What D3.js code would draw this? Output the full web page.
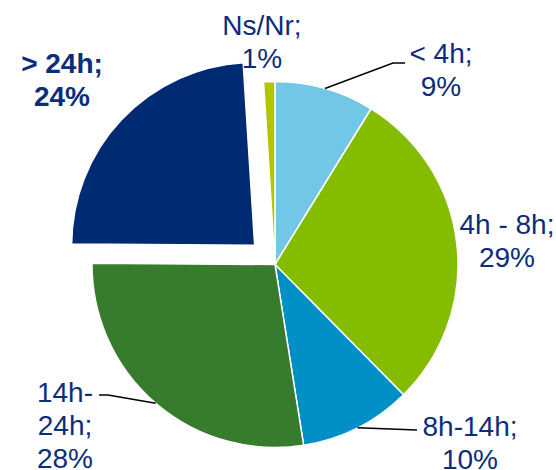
<!DOCTYPE html>
<html>
<head>
<meta charset="utf-8">
<script src="https://cdn.jsdelivr.net/npm/d3@7/dist/d3.min.js"></script>
<style>
  html, body { margin: 0; padding: 0; background: #ffffff; }
  svg { display: block; }
  text { font-family: "Liberation Sans", Arial, Helvetica, sans-serif; }
</style>
</head>
<body>
<svg id="chart" width="556" height="470"></svg>
<script>
// Share of cases by duration (percent)
const categories = ["< 4h", "4h - 8h", "8h-14h", "14h-24h", "> 24h", "Ns/Nr"];
const values     = [8.8, 28.8, 9.9, 27.6, 23.9, 1.0];
const colors     = ["#72c6e6", "#84bc00", "#0090c6", "#377b2c", "#002a72", "#b5c400"];

// Label layout: text lines, anchor position, weight, optional leader elbow/end
const labelLayout = [
  { lines: ["< 4h;", "{v}"],        x: 441, y: 63,  bold: false, leader: [[393, 63], [405, 63]] },
  { lines: ["4h - 8h;", "{v}"],     x: 507, y: 234, bold: false, leader: null },
  { lines: ["8h-14h;", "{v}"],      x: 470, y: 436, bold: false, leader: [[417, 430]] },
  { lines: ["14h-", "24h;", "{v}"], x: 65,  y: 402, bold: false, leader: [[108, 395], [99, 395]] },
  { lines: ["> 24h;", "{v}"],       x: 62,  y: 73,  bold: true,  leader: null },
  { lines: ["Ns/Nr;", "{v}"],       x: 262, y: 35,  bold: false, leader: null }
];
const exploded = { "> 24h": 28 };

const cx = 275, cy = 264.5, radius = 183;
const lineHeight = 33;
const textColor = "#0b2d7a";

const svg = d3.select("#chart");
const g = svg.append("g").attr("transform", `translate(${cx},${cy})`);

const pie = d3.pie().sort(null).value(d => d.value).startAngle(0).endAngle(2 * Math.PI);
const data = categories.map((c, i) => ({ name: c, value: values[i], color: colors[i], label: labelLayout[i] }));
const arcs = pie(data);

const arc = d3.arc().innerRadius(0).outerRadius(radius);

function offsetOf(d) {
  const off = exploded[d.data.name] || 0;
  const mid = (d.startAngle + d.endAngle) / 2;
  return [off * Math.sin(mid), -off * Math.cos(mid)];
}

g.selectAll("path.slice")
  .data(arcs)
  .join("path")
  .attr("class", "slice")
  .attr("d", arc)
  .attr("transform", d => { const [dx, dy] = offsetOf(d); return `translate(${dx},${dy})`; })
  .attr("fill", d => d.data.color)
  .attr("stroke", "#ffffff")
  .attr("stroke-width", 1.5)
  .attr("stroke-linejoin", "round");

// Leader lines from the slice's outer edge (mid-angle) to the label
const leaders = svg.append("g");
arcs.forEach(d => {
  const lab = d.data.label;
  if (!lab.leader) return;
  const mid = (d.startAngle + d.endAngle) / 2;
  const [dx, dy] = offsetOf(d);
  const start = [cx + dx + radius * Math.sin(mid), cy + dy - radius * Math.cos(mid)];
  const pts = [start].concat(lab.leader);
  leaders.append("path")
    .attr("d", d3.line()(pts))
    .attr("fill", "none")
    .attr("stroke", "#000000")
    .attr("stroke-width", 1.5);
});

// Category labels
const labels = svg.append("g");
arcs.forEach(d => {
  const lab = d.data.label;
  const t = labels.append("text")
    .attr("text-anchor", "middle")
    .attr("font-size", 28)
    .attr("font-weight", lab.bold ? "bold" : "normal")
    .attr("fill", textColor);
  lab.lines.forEach((ln, i) => {
    t.append("tspan")
      .attr("x", lab.x)
      .attr("y", lab.y + i * lineHeight)
      .text(ln === "{v}" ? Math.round(d.data.value) + "%" : ln);
  });
});
</script>
</body>
</html>
